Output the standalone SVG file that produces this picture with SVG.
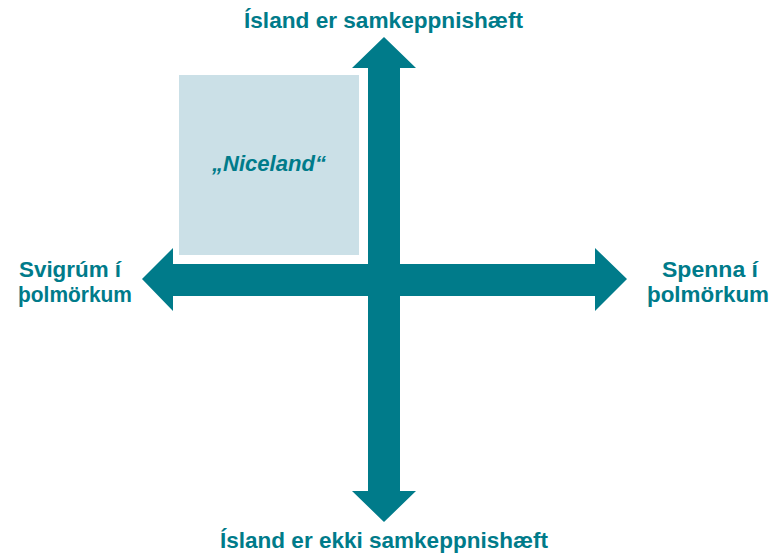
<svg xmlns="http://www.w3.org/2000/svg" width="771" height="555" viewBox="0 0 771 555">
<style>
.lbl{font-family:"Liberation Sans",Arial,sans-serif;font-weight:bold;font-size:22px;fill:#007B8A}
.arrow{fill:#007B8A}
</style>
<rect width="771" height="555" fill="#FFFFFF"/>
<g id="connectors">
<polygon class="arrow" id="vertical-axis" points="384,37 416,68 400,68 400,491 416,491 384,522 352,491 368,491 368,68 352,68"/>
<polygon class="arrow" id="horizontal-axis" points="142,279 173,248 173,264 595,264 595,248 627,279 595,311 595,296 173,296 173,311"/>
</g>
<g id="niceland">
<rect x="176" y="72" width="186" height="186" fill="#CBE0E7" stroke="#FFFFFF" stroke-width="6"/>
<text class="lbl" x="212" y="171" font-style="italic" textLength="114" lengthAdjust="spacingAndGlyphs">„Niceland“</text>
</g>
<g id="top-label"><text class="lbl" x="244" y="28" textLength="279" lengthAdjust="spacingAndGlyphs">Ísland er samkeppnishæft</text></g>
<g id="bottom-label"><text class="lbl" x="220" y="548" textLength="328" lengthAdjust="spacingAndGlyphs">Ísland er ekki samkeppnishæft</text></g>
<g id="left-label"><text class="lbl" x="19" y="277" textLength="102" lengthAdjust="spacingAndGlyphs">Svigrúm í</text><text class="lbl" x="18" y="302" textLength="114" lengthAdjust="spacingAndGlyphs">þolmörkum</text></g>
<g id="right-label"><text class="lbl" x="662" y="277" textLength="96" lengthAdjust="spacingAndGlyphs">Spenna í</text><text class="lbl" x="647" y="302" textLength="122" lengthAdjust="spacingAndGlyphs">þolmörkum</text></g>
</svg>
